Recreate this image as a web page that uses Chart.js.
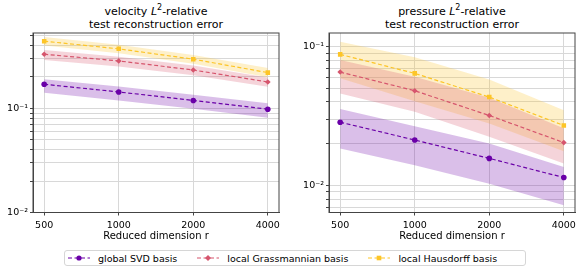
<!DOCTYPE html>
<html>
<head>
<meta charset="utf-8">
<script src="https://cdn.jsdelivr.net/npm/chart.js@4.4.0/dist/chart.umd.min.js"></script>
<style>
  body { margin: 0; background: #fff; font-family: "DejaVu Sans", sans-serif; }
  #wrap { position: relative; width: 582px; height: 273px; overflow: hidden; }
  canvas { position: absolute; top: 0; }
  .title { position: absolute; top: 5px; width: 246px; text-align: center; font-size: 11px; line-height: 13px; color: #000; white-space: nowrap; }
  #legend { position: absolute; left: 64px; top: 250px; width: 462px; height: 16px; border: 1px solid #d6d6d6; border-radius: 3px;
            box-sizing: border-box; display: flex; align-items: center; padding-left: 3px; font-size: 9.5px; color: #000; }
  .item { display: flex; align-items: center; margin-right: 20px; white-space: nowrap; }
  .item svg { margin-right: 8px; }
</style>
</head>
<body>
<div id="wrap">
  <div class="title" style="left:33px">velocity <i>L</i><sup style="font-size:8px;line-height:0">2</sup>-relative<br>test reconstruction error</div>
  <div class="title" style="left:329px">pressure <i>L</i><sup style="font-size:8px;line-height:0">2</sup>-relative<br>test reconstruction error</div>
  <canvas id="velChart" width="291" height="242" style="left:0;width:291px;height:242px"></canvas>
  <canvas id="presChart" width="291" height="242" style="left:291px;width:291px;height:242px"></canvas>
  <div id="legend"></div>
</div>
<script>
// reduced dimensions r
const dims = [500, 1000, 2000, 4000];
const seriesNames = ['global SVD basis', 'local Grassmannian basis', 'local Hausdorff basis'];
const seriesColors = ['#6a00a8', '#d6556d', '#fdc527'];
const pointStyles = ['circle', 'rectRot', 'rect'];

// velocity error: mean and band
const velSvd   = [0.170, 0.1435, 0.119, 0.098];
const velSvdHi = [0.190, 0.162, 0.135, 0.112];
const velSvdLo = [0.141, 0.119, 0.099, 0.081];
const velGr    = [0.330, 0.285, 0.233, 0.179];
const velGrHi  = [0.363, 0.313, 0.257, 0.197];
const velGrLo  = [0.291, 0.252, 0.208, 0.161];
const velHd    = [0.441, 0.372, 0.296, 0.220];
const velHdHi  = [0.482, 0.407, 0.325, 0.243];
const velHdLo  = [0.400, 0.337, 0.268, 0.199];

// pressure error: mean and band
const prSvd   = [0.0286, 0.0213, 0.0157, 0.01143];
const prSvdHi = [0.0356, 0.0268, 0.0201, 0.01362];
const prSvdLo = [0.0185, 0.0140, 0.01033, 0.00721];
const prGr    = [0.0657, 0.0482, 0.0320, 0.0204];
const prGrHi  = [0.0802, 0.0608, 0.0430, 0.0259];
const prGrLo  = [0.0461, 0.0340, 0.0225, 0.01442];
const prHd    = [0.0881, 0.0643, 0.0434, 0.0271];
const prHdHi  = [0.1087, 0.0840, 0.0580, 0.0349];
const prHdLo  = [0.0592, 0.0405, 0.0280, 0.0177];

// y tick positions (labels only on decades)
const velYTicks = [0.01, 0.02, 0.03, 0.04, 0.05, 0.06, 0.07, 0.08, 0.09, 0.1, 0.2, 0.3, 0.4, 0.5];
const presYTicks = [0.007, 0.008, 0.009, 0.01, 0.02, 0.03, 0.04, 0.05, 0.06, 0.07, 0.08, 0.09, 0.1];
const decadeLabels = { 0.01: '10⁻²', 0.1: '10⁻¹' };

const FONT = '"DejaVu Sans", sans-serif';
const xMin = 500 / Math.pow(2, 0.15), xMax = 4000 * Math.pow(2, 0.15);

function hexA(hex, a) {
    const n = parseInt(hex.slice(1), 16);
    return `rgba(${n >> 16}, ${(n >> 8) & 255}, ${n & 255}, ${a})`;
}
const pts = arr => arr.map((v, i) => ({ x: dims[i], y: v }));

function makeChart(id, series, yMin, yMax, yTicks, yWidth, padRight) {
    const datasets = [];
    series.forEach((s, k) => {
        const c = seriesColors[k];
        datasets.push({
            label: seriesNames[k], data: pts(s[0]), order: 0,
            borderColor: c, backgroundColor: c, borderWidth: 1.2, borderDash: [4, 2.5],
            pointStyle: pointStyles[k], pointRadius: k === 2 ? 3.2 : 2.8, pointBorderWidth: 0,
            fill: false, tension: 0
        });
        datasets.push({
            label: 'hi', data: pts(s[1]), order: 1, borderWidth: 0, pointRadius: 0,
            backgroundColor: hexA(c, 0.25), fill: '+1'
        });
        datasets.push({
            label: 'lo', data: pts(s[2]), order: 1, borderWidth: 0, pointRadius: 0, fill: false
        });
    });

    return new Chart(document.getElementById(id), {
        type: 'line',
        data: { datasets },
        options: {
            responsive: false,
            animation: false,
            layout: { padding: { top: 33, right: padRight, left: 0, bottom: 0 } },
            plugins: { legend: { display: false }, tooltip: { enabled: false }, title: { display: false } },
            scales: {
                x: {
                    type: 'logarithmic', min: xMin, max: xMax,
                    afterBuildTicks: sc => { sc.ticks = dims.map(v => ({ value: v })); },
                    afterFit: sc => { sc.height = 29.5; },
                    ticks: { callback: v => String(v), autoSkip: false, maxRotation: 0, color: '#000', padding: 4,
                             font: { family: FONT, size: 9.5 } },
                    grid: { color: '#d8d8d8', lineWidth: 1, tickLength: 3, tickColor: '#444' },
                    border: { color: '#444', width: 1 },
                    title: { display: true, text: 'Reduced dimension r', color: '#000',
                             font: { family: FONT, size: 10 }, padding: { top: 0, bottom: 0 } }
                },
                y: {
                    type: 'logarithmic', min: yMin, max: yMax,
                    afterBuildTicks: sc => { sc.ticks = yTicks.map(v => ({ value: v })); },
                    afterFit: sc => { sc.width = yWidth; },
                    ticks: { callback: v => decadeLabels[v] || '', autoSkip: false, color: '#000', padding: 2,
                             font: { family: FONT, size: 9.5 } },
                    grid: { color: '#d8d8d8', lineWidth: 1, tickLength: 3, tickColor: '#444' },
                    border: { color: '#444', width: 1 }
                }
            }
        },
        plugins: [{
            id: 'frame',
            afterDraw(chart) {
                const a = chart.chartArea, ctx = chart.ctx;
                ctx.save();
                ctx.strokeStyle = '#444';
                ctx.lineWidth = 1;
                ctx.strokeRect(a.left, a.top, a.right - a.left, a.bottom - a.top);
                ctx.restore();
            }
        }]
    });
}

makeChart('velChart',
    [[velSvd, velSvdHi, velSvdLo], [velGr, velGrHi, velGrLo], [velHd, velHdHi, velHdLo]],
    0.01, 0.528, velYTicks, 33, 12);
makeChart('presChart',
    [[prSvd, prSvdHi, prSvdLo], [prGr, prGrHi, prGrLo], [prHd, prHdHi, prHdLo]],
    0.0064, 0.1256, presYTicks, 38, 7);

// legend
const legend = document.getElementById('legend');
seriesNames.forEach((name, k) => {
    const c = seriesColors[k];
    let marker;
    if (pointStyles[k] === 'circle') marker = `<circle cx="11" cy="4" r="2.6" fill="${c}"/>`;
    else if (pointStyles[k] === 'rectRot') marker = `<polygon points="11,1 14,4 11,7 8,4" fill="${c}"/>`;
    else marker = `<rect x="8.7" y="1.7" width="4.6" height="4.6" fill="${c}"/>`;
    const item = document.createElement('div');
    item.className = 'item';
    item.innerHTML = `<svg width="22" height="8"><line x1="0" y1="4" x2="22" y2="4" stroke="${c}" stroke-width="1.2" stroke-dasharray="4 2.5"/>${marker}</svg><span>${name}</span>`;
    legend.appendChild(item);
});
</script>
</body>
</html>
